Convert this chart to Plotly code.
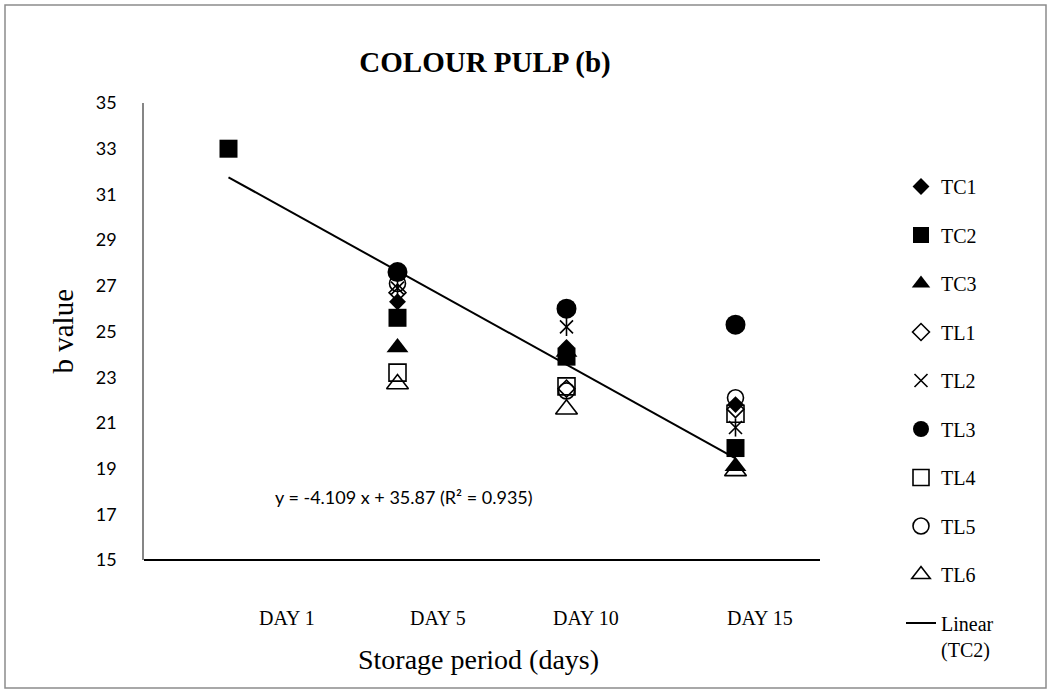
import numpy as np
import plotly.graph_objects as go

# ---------------- data ----------------
categories = ["DAY 1", "DAY 5", "DAY 10", "DAY 15"]
x_index = [1, 2, 3, 4]

TC1 = [None, 26.3, 24.3, 21.8]
TC2 = [33.0, 25.6, 23.9, 19.9]
TC3 = [None, 24.3, 24.1, 19.1]
TL1 = [None, 26.7, 22.5, 21.6]
TL2 = [None, 26.9, 25.2, 20.8]
TL3 = [None, 27.6, 26.0, 25.3]
TL4 = [None, 23.2, 22.6, 21.4]
TL5 = [None, 27.1, 22.4, 22.1]
TL6 = [None, 22.7, 21.6, 18.9]

series_names = ["TC1", "TC2", "TC3", "TL1", "TL2", "TL3", "TL4", "TL5", "TL6"]
series_values = [TC1, TC2, TC3, TL1, TL2, TL3, TL4, TL5, TL6]

equation_label = "y = -4.109 x + 35.87 (R² = 0.935)"
y_ticks = [15, 17, 19, 21, 23, 25, 27, 29, 31, 33, 35]

# ---------------- styles ----------------
styles = {
    "TC1": dict(symbol="diamond", size=13, color="black", line=dict(width=0)),
    "TC2": dict(symbol="square", size=18, color="black", line=dict(width=0)),
    "TC3": dict(symbol="triangle-up", size=19, color="black", line=dict(width=0)),
    "TL1": dict(symbol="diamond-open", size=13, color="black", line=dict(width=1.6, color="black")),
    "TL2": dict(symbol="x-thin-open", size=13, color="black", line=dict(width=1.6, color="black")),
    "TL3": dict(symbol="circle", size=20, color="black", line=dict(width=0)),
    "TL4": dict(symbol="square-open", size=17, color="black", line=dict(width=1.6, color="black")),
    "TL5": dict(symbol="circle-open", size=16, color="black", line=dict(width=1.6, color="black")),
    "TL6": dict(symbol="triangle-up-open", size=19, color="black", line=dict(width=1.6, color="black")),
}

SERIF = "Liberation Serif, Times New Roman, serif"
SANS = "Lato, Carlito, Calibri, sans-serif"

fig = go.Figure()

for i, (name, vals) in enumerate(zip(series_names, series_values)):
    fig.add_trace(go.Scatter(
        x=x_index, y=vals, mode="markers", name=name,
        marker=styles[name], legendgroup=name, legendrank=i + 1,
        cliponaxis=False,
    ))
    if name == "TL2":
        fig.add_trace(go.Scatter(
            x=x_index, y=vals, mode="markers", showlegend=False,
            marker=dict(symbol="line-ns-open", size=13, color="black",
                        line=dict(width=1.6, color="black")),
            legendgroup=name, cliponaxis=False,
        ))

# linear trendline of TC2 (least squares)
tc2_x = [x for x, v in zip(x_index, TC2) if v is not None]
tc2_y = [v for v in TC2 if v is not None]
slope, intercept = np.polyfit(tc2_x, tc2_y, 1)
trend_x = [min(tc2_x), max(tc2_x)]
trend_y = [slope * x + intercept for x in trend_x]
fig.add_trace(go.Scatter(
    x=trend_x, y=trend_y, mode="lines", name="Linear<br>(TC2)",
    line=dict(color="black", width=2), legendgroup="trend", legendrank=20,
))

# plot area in pixels
L, R, T, B = 144, 820, 103, 560
W, H = 1051, 693


def px_x(p):
    return (p - L) / (R - L)


def px_y(p):
    return (B - p) / (B - T)


annotations = []
day_label_px = [287, 438, 586, 760]
for lab, p in zip(categories, day_label_px):
    annotations.append(dict(
        x=px_x(p), y=px_y(618), xref="paper", yref="paper", text=lab,
        showarrow=False, font=dict(family=SERIF, size=20, color="black"),
        xanchor="center", yanchor="middle",
    ))
annotations.append(dict(
    x=px_x(478), y=px_y(659), xref="paper", yref="paper",
    text="Storage period (days)", showarrow=False,
    font=dict(family=SERIF, size=28, color="black"), xanchor="center", yanchor="middle",
))
annotations.append(dict(
    x=px_x(62), y=0.5, xref="paper", yref="paper", text="b value", textangle=-90,
    showarrow=False, font=dict(family=SERIF, size=29, color="black"),
    xanchor="center", yanchor="middle",
))
annotations.append(dict(
    x=px_x(404), y=px_y(497), xref="paper", yref="paper", text=equation_label,
    showarrow=False, font=dict(family=SANS, size=18, color="black"),
    xanchor="center", yanchor="middle",
))

fig.update_layout(
    width=W, height=H,
    margin=dict(l=L, r=W - R, t=T, b=H - B),
    paper_bgcolor="white", plot_bgcolor="white",
    title=dict(text="<b>COLOUR PULP (b)</b>", x=485 / W, y=1 - 62 / H,
               xref="container", yref="container",
               xanchor="center", yanchor="middle",
               font=dict(family=SERIF, size=29, color="black")),
    xaxis=dict(range=[0.5, 4.5], showticklabels=False, showgrid=False, zeroline=False,
               showline=False, ticks=""),
    yaxis=dict(range=[15, 35], tickvals=y_ticks, showgrid=False, zeroline=False,
               showline=True, linecolor="#868686", linewidth=1.5, ticks="",
               ticklabelstandoff=22,
               tickfont=dict(family=SANS, size=18, color="black")),
    legend=dict(x=px_x(901), y=px_y(167), xanchor="left", yanchor="top",
                font=dict(family=SERIF, size=20, color="black"),
                traceorder="grouped", tracegroupgap=19.5, valign="top",
                maxheight=600,
                bgcolor="rgba(0,0,0,0)"),
    annotations=annotations,
    shapes=[
        dict(type="line", xref="paper", yref="paper", x0=0, x1=1, y0=0, y1=0,
             line=dict(color="black", width=1.8)),
        dict(type="rect", xref="paper", yref="paper",
             x0=px_x(5), x1=px_x(1046), y0=px_y(688), y1=px_y(5),
             line=dict(color="#8c8c8c", width=1.5), layer="below"),
    ],
)

fig.write_html("out.html")
